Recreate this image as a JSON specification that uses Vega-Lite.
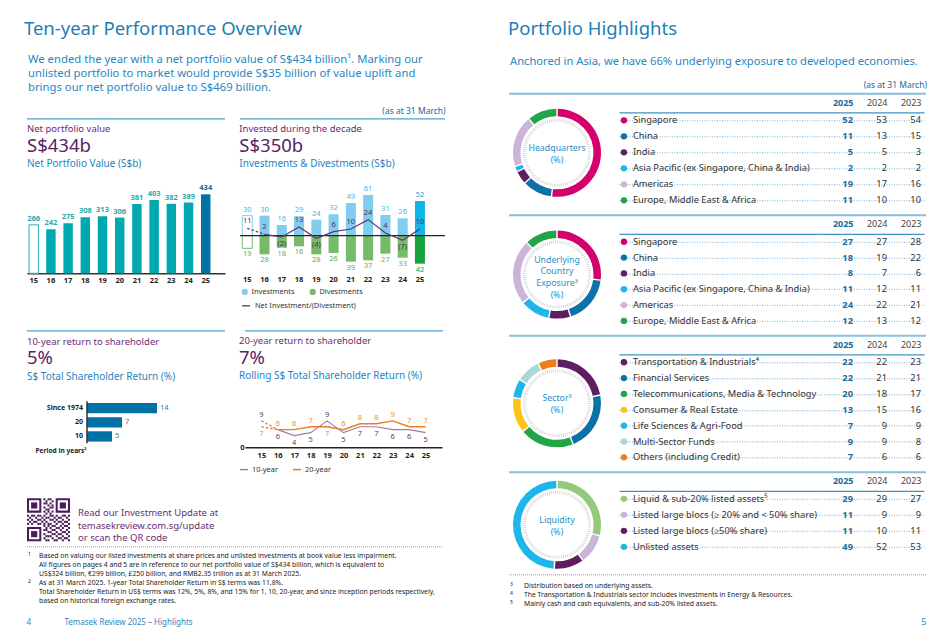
{
"$schema": "https://vega.github.io/schema/vega-lite/v6.json",
"padding": {"left": 23, "top": 20, "right": 4, "bottom": 4},
"config": {
  "font": "Noto Sans",
  "view": {"stroke": null},
  "title": {"anchor": "start", "font": "Noto Sans", "subtitleFont": "Noto Sans", "fontWeight": "normal", "subtitleFontWeight": "normal"},
  "axis": {"labelFont": "Noto Sans", "titleFont": "Noto Sans"},
  "legend": {"labelFont": "Noto Sans", "padding": 0},
  "text": {"font": "Noto Sans"}
},
"datasets": {
  "npv": [{"year":"15","npv":266},{"year":"16","npv":242},{"year":"17","npv":275},{"year":"18","npv":308},{"year":"19","npv":313},{"year":"20","npv":306},{"year":"21","npv":381},{"year":"22","npv":403},{"year":"23","npv":382},{"year":"24","npv":389},{"year":"25","npv":434}],
  "inv": [{"year":"15","inv":30,"div":19,"net":11},{"year":"16","inv":30,"div":28,"net":2},{"year":"17","inv":16,"div":18,"net":-2},{"year":"18","inv":29,"div":16,"net":13},{"year":"19","inv":24,"div":28,"net":-4},{"year":"20","inv":32,"div":26,"net":6},{"year":"21","inv":49,"div":39,"net":10},{"year":"22","inv":61,"div":37,"net":24},{"year":"23","inv":31,"div":27,"net":4},{"year":"24","inv":26,"div":33,"net":-7},{"year":"25","inv":52,"div":42,"net":10}],
  "tsr": [{"period":"Since 1974","r":14},{"period":"20","r":7},{"period":"10","r":5}],
  "roll": [{"year":"15","y10":9,"y20":7},{"year":"16","y10":6,"y20":6},{"year":"17","y10":4,"y20":6},{"year":"18","y10":5,"y20":7},{"year":"19","y10":9,"y20":7},{"year":"20","y10":5,"y20":6},{"year":"21","y10":7,"y20":8},{"year":"22","y10":7,"y20":8},{"year":"23","y10":6,"y20":9},{"year":"24","y10":6,"y20":7},{"year":"25","y10":5,"y20":7}],
  "hq": [{"name":"Singapore","2025":52,"2024":53,"2023":54},{"name":"China","2025":11,"2024":13,"2023":15},{"name":"India","2025":5,"2024":5,"2023":3},{"name":"Asia Pacific (ex Singapore, China & India)","2025":2,"2024":2,"2023":2},{"name":"Americas","2025":19,"2024":17,"2023":16},{"name":"Europe, Middle East & Africa","2025":11,"2024":10,"2023":10}],
  "uce": [{"name":"Singapore","2025":27,"2024":27,"2023":28},{"name":"China","2025":18,"2024":19,"2023":22},{"name":"India","2025":8,"2024":7,"2023":6},{"name":"Asia Pacific (ex Singapore, China & India)","2025":11,"2024":12,"2023":11},{"name":"Americas","2025":24,"2024":22,"2023":21},{"name":"Europe, Middle East & Africa","2025":12,"2024":13,"2023":12}],
  "sec": [{"name":"Transportation & Industrials⁴","2025":22,"2024":22,"2023":23},{"name":"Financial Services","2025":22,"2024":21,"2023":21},{"name":"Telecommunications, Media & Technology","2025":20,"2024":18,"2023":17},{"name":"Consumer & Real Estate","2025":13,"2024":15,"2023":16},{"name":"Life Sciences & Agri-Food","2025":7,"2024":9,"2023":9},{"name":"Multi-Sector Funds","2025":9,"2024":9,"2023":8},{"name":"Others (including Credit)","2025":7,"2024":6,"2023":6}],
  "liq": [{"name":"Liquid & sub-20% listed assets⁵","2025":29,"2024":29,"2023":27},{"name":"Listed large blocs (≥ 20% and < 50% share)","2025":11,"2024":9,"2023":9},{"name":"Listed large blocs (≥50% share)","2025":11,"2024":10,"2023":11},{"name":"Unlisted assets","2025":49,"2024":52,"2023":53}],
  "fnL": [{"n":"1","t":"Based on valuing our listed investments at share prices and unlisted investments at book value less impairment."},{"n":"","t":"All figures on pages 4 and 5 are in reference to our net portfolio value of S$434 billion, which is equivalent to"},{"n":"","t":"US$324 billion, €299 billion, £250 billion, and RMB2.35 trillion as at 31 March 2025."},{"n":"2","t":"As at 31 March 2025. 1-year Total Shareholder Return in S$ terms was 11.8%."},{"n":"","t":"Total Shareholder Return in US$ terms was 12%, 5%, 8%, and 15% for 1, 10, 20-year, and since inception periods respectively,"},{"n":"","t":"based on historical foreign exchange rates."}],
  "fnR": [{"n":"3","t":"Distribution based on underlying assets."},{"n":"4","t":"The Transportation & Industrials sector includes investments in Energy & Resources."},{"n":"5","t":"Mainly cash and cash equivalents, and sub-20% listed assets."}],
  "qrf": [{"c":3,"r":3},{"c":17,"r":3},{"c":3,"r":17}],
  "qr": [{"c":8,"r":0},{"c":10,"r":0},{"c":11,"r":0},{"c":9,"r":1},{"c":12,"r":1},{"c":8,"r":2},{"c":9,"r":2},{"c":11,"r":2},{"c":10,"r":3},{"c":12,"r":3},{"c":8,"r":4},{"c":11,"r":4},{"c":12,"r":4},{"c":9,"r":5},{"c":10,"r":5},{"c":8,"r":6},{"c":10,"r":6},{"c":12,"r":6},{"c":9,"r":7},{"c":11,"r":7},{"c":0,"r":8},{"c":2,"r":8},{"c":3,"r":8},{"c":5,"r":8},{"c":6,"r":8},{"c":8,"r":8},{"c":11,"r":8},{"c":12,"r":8},{"c":14,"r":8},{"c":17,"r":8},{"c":18,"r":8},{"c":20,"r":8},{"c":1,"r":9},{"c":4,"r":9},{"c":7,"r":9},{"c":9,"r":9},{"c":10,"r":9},{"c":13,"r":9},{"c":15,"r":9},{"c":16,"r":9},{"c":19,"r":9},{"c":0,"r":10},{"c":2,"r":10},{"c":5,"r":10},{"c":6,"r":10},{"c":8,"r":10},{"c":11,"r":10},{"c":12,"r":10},{"c":14,"r":10},{"c":17,"r":10},{"c":20,"r":10},{"c":1,"r":11},{"c":3,"r":11},{"c":4,"r":11},{"c":7,"r":11},{"c":9,"r":11},{"c":13,"r":11},{"c":15,"r":11},{"c":16,"r":11},{"c":18,"r":11},{"c":19,"r":11},{"c":0,"r":12},{"c":2,"r":12},{"c":5,"r":12},{"c":6,"r":12},{"c":8,"r":12},{"c":10,"r":12},{"c":11,"r":12},{"c":14,"r":12},{"c":17,"r":12},{"c":20,"r":12},{"c":8,"r":13},{"c":10,"r":13},{"c":12,"r":13},{"c":13,"r":13},{"c":16,"r":13},{"c":18,"r":13},{"c":19,"r":13},{"c":9,"r":14},{"c":11,"r":14},{"c":14,"r":14},{"c":15,"r":14},{"c":17,"r":14},{"c":20,"r":14},{"c":8,"r":15},{"c":9,"r":15},{"c":12,"r":15},{"c":13,"r":15},{"c":16,"r":15},{"c":19,"r":15},{"c":10,"r":16},{"c":11,"r":16},{"c":14,"r":16},{"c":17,"r":16},{"c":18,"r":16},{"c":20,"r":16},{"c":8,"r":17},{"c":12,"r":17},{"c":13,"r":17},{"c":15,"r":17},{"c":16,"r":17},{"c":19,"r":17},{"c":9,"r":18},{"c":10,"r":18},{"c":11,"r":18},{"c":14,"r":18},{"c":17,"r":18},{"c":20,"r":18},{"c":8,"r":19},{"c":12,"r":19},{"c":15,"r":19},{"c":16,"r":19},{"c":18,"r":19},{"c":19,"r":19},{"c":9,"r":20},{"c":10,"r":20},{"c":13,"r":20},{"c":14,"r":20},{"c":17,"r":20},{"c":20,"r":20}]
},
"spacing": 62,
"resolve": {"scale": {"color": "independent", "fill": "independent", "stroke": "independent"}},
"hconcat": [
{
  "title": {"text": "Ten-year Performance Overview", "fontSize": 18.5, "color": "#1d7fb5", "offset": 14.5},
  "spacing": 11.3,
  "resolve": {"scale": {"color": "independent", "fill": "independent", "stroke": "independent"}},
  "vconcat": [
    {
      "width": 2, "height": 42,
      "data": {"values": [{"t": "We ended the year with a net portfolio value of S$434 billion¹. Marking our\nunlisted portfolio to market would provide S$35 billion of value uplift and\nbrings our net portfolio value to S$469 billion."}]},
      "mark": {"type": "text", "align": "left", "baseline": "middle", "lineBreak": "\n", "fontSize": 11.3, "lineHeight": 14, "dy": -14, "color": "#2a86be"},
      "encoding": {"text": {"field": "t", "type": "nominal"}}
    },
    {
      "spacing": 19,
      "resolve": {"scale": {"color": "independent", "fill": "independent", "stroke": "independent"}},
      "vconcat": [
        {
          "title": {"text": "(as at 31 March)", "anchor": "end", "fontSize": 8.5, "color": "#23679a", "offset": 3},
          "spacing": 13,
          "resolve": {"scale": {"color": "independent", "fill": "independent", "stroke": "independent"}},
          "hconcat": [
            {
              "spacing": 4,
              "vconcat": [
                {"width": 198, "height": 1, "data": {"values": [{}]}, "mark": {"type": "rule", "color": "#4d9fd0", "strokeWidth": 1.3}, "encoding": {"y": {"datum": 0, "type": "quantitative", "scale": {"domain": [-1, 1]}, "axis": null}}},
                {
                  "title": {"text": "Net portfolio value", "subtitle": "S$434b", "fontSize": 9.5, "color": "#6b2c70", "subtitleFontSize": 18.5, "subtitleColor": "#5a2366", "subtitlePadding": 3, "offset": 4},
                  "vconcat": [
                    {
                      "title": {"text": "Net Portfolio Value (S$b)", "fontSize": 10, "color": "#1f84bf", "offset": 13},
                      "width": 198, "height": 91,
                      "data": {"name": "npv"},
                      "encoding": {
                        "x": {"field": "year", "type": "ordinal", "scale": {"paddingInner": 0.45, "paddingOuter": 0.48, "align": 0.12}, "axis": {"title": null, "labelAngle": 0, "labelFontSize": 7.5, "labelFontWeight": "bold", "labelColor": "#222222", "ticks": false, "labelPadding": 3, "domainColor": "#333333", "domainWidth": 1.5}},
                        "y": {"field": "npv", "type": "quantitative", "scale": {"domain": [0, 500]}, "axis": null}
                      },
                      "layer": [
                        {"mark": {"type": "bar", "strokeWidth": 1}, "encoding": {"fill": {"condition": [{"test": "datum.year == '15'", "value": "#ffffff"}, {"test": "datum.year == '25'", "value": "#0072a5"}], "value": "#00a9b0"}, "stroke": {"condition": {"test": "datum.year == '15'", "value": "#2bb3b8"}, "value": "transparent"}}},
                        {"mark": {"type": "text", "baseline": "bottom", "dy": -2, "fontSize": 7.5, "fontWeight": "bold"}, "encoding": {"text": {"field": "npv", "type": "quantitative"}, "color": {"condition": {"test": "datum.year == '25'", "value": "#0d6f9f"}, "value": "#2aa8ae"}}}
                      ]
                    }
                  ]
                }
              ]
            },
            {
              "spacing": 4,
              "resolve": {"scale": {"color": "independent", "fill": "independent", "stroke": "independent"}},
              "vconcat": [
                {"width": 205, "height": 1, "data": {"values": [{}]}, "mark": {"type": "rule", "color": "#4d9fd0", "strokeWidth": 1.3}, "encoding": {"y": {"datum": 0, "type": "quantitative", "scale": {"domain": [-1, 1]}, "axis": null}}},
                {
                  "title": {"text": "Invested during the decade", "subtitle": "S$350b", "fontSize": 9.5, "color": "#6b2c70", "subtitleFontSize": 18.5, "subtitleColor": "#5a2366", "subtitlePadding": 3, "offset": 4},
                  "resolve": {"scale": {"color": "independent", "fill": "independent", "stroke": "independent"}},
                  "vconcat": [
                    {
                      "title": {"text": "Investments & Divestments (S$b)", "fontSize": 10, "color": "#1f84bf", "offset": 13},
                      "width": 205, "height": 90.7,
                      "data": {"name": "inv"},
                      "resolve": {"scale": {"y": "independent"}},
                      "layer": [
                        {"mark": {"type": "bar", "strokeWidth": 1},
                         "encoding": {
                           "x": {"field": "year", "type": "ordinal", "scale": {"paddingInner": 0.42, "paddingOuter": 0.645, "align": 0.1}, "axis": {"title": null, "labelAngle": 0, "labelFontSize": 7.5, "labelFontWeight": "bold", "labelColor": "#222222", "ticks": false, "domain": false, "labelPadding": 2}},
                           "y": {"field": "inv", "type": "quantitative", "scale": {"domain": [-56, 80]}, "axis": null},
                           "fill": {"datum": "Investments", "scale": {"domain": ["Investments", "Divestments"], "range": ["#80cdf0", "#76bb69"]}, "condition": [{"test": "datum.year == '15'", "value": "#ffffff"}, {"test": "datum.year == '25'", "value": "#12b4ea"}], "legend": {"orient": "none", "legendX": 1, "legendY": 105.5, "direction": "horizontal", "title": null, "symbolType": "circle", "symbolSize": 40, "symbolStrokeWidth": 0, "labelFontSize": 7.4, "labelColor": "#333333", "labelOffset": 3, "columnPadding": 14, "encode": {"symbols": {"update": {"fill": {"signal": "datum.value === 'Investments' ? '#19b2e8' : '#1ea33f'"}}}}}},
                           "stroke": {"condition": {"test": "datum.year == '15'", "value": "#80cdf0"}, "value": "transparent"}}},
                        {"mark": {"type": "bar", "strokeWidth": 1},
                         "encoding": {
                           "x": {"field": "year", "type": "ordinal"},
                           "y": {"field": "div", "type": "quantitative", "scale": {"domain": [56, -80]}, "axis": null},
                           "fill": {"datum": "Divestments", "condition": [{"test": "datum.year == '15'", "value": "#ffffff"}, {"test": "datum.year == '25'", "value": "#17a33b"}]},
                           "stroke": {"condition": {"test": "datum.year == '15'", "value": "#76bb69"}, "value": "transparent"}}},
                        {"data": {"values": [{}]}, "mark": {"type": "rule", "color": "#222222", "strokeWidth": 1.3}, "encoding": {"y": {"datum": 0, "type": "quantitative", "scale": {"domain": [-56, 80]}, "axis": null}}},
                        {"transform": [{"filter": "datum.year == '15' || datum.year == '16'"}], "mark": {"type": "line", "color": "#6b2d6e", "strokeWidth": 1.2, "strokeDash": [2.5, 2]}, "encoding": {"x": {"field": "year", "type": "ordinal"}, "y": {"field": "net", "type": "quantitative", "scale": {"domain": [-56, 80]}, "axis": null}}},
                        {"transform": [{"filter": "datum.year != '15'"}], "mark": {"type": "line", "strokeWidth": 1.2}, "encoding": {"x": {"field": "year", "type": "ordinal"}, "y": {"field": "net", "type": "quantitative", "scale": {"domain": [-56, 80]}, "axis": null}, "stroke": {"datum": "Net Investment/(Divestment)", "scale": {"range": ["#6b2d6e"]}, "legend": {"orient": "none", "legendX": 1, "legendY": 118.5, "title": null, "symbolType": "stroke", "symbolSize": 64, "symbolStrokeWidth": 1.3, "labelFontSize": 7.4, "labelColor": "#333333", "labelOffset": 4}}}},
                        {"mark": {"type": "text", "dy": -6, "fontSize": 7.5}, "encoding": {"x": {"field": "year", "type": "ordinal"}, "y": {"field": "inv", "type": "quantitative", "scale": {"domain": [-56, 80]}, "axis": null}, "text": {"field": "inv", "type": "quantitative"}, "color": {"condition": {"test": "datum.year == '25'", "value": "#0ea5dc"}, "value": "#45b6e6"}}},
                        {"mark": {"type": "text", "dy": 6, "fontSize": 7.5}, "encoding": {"x": {"field": "year", "type": "ordinal"}, "y": {"field": "div", "type": "quantitative", "scale": {"domain": [56, -80]}, "axis": null}, "text": {"field": "div", "type": "quantitative"}, "color": {"condition": {"test": "datum.year == '25'", "value": "#17a33b"}, "value": "#5bae50"}}},
                        {"transform": [{"filter": "datum.net >= 0"}], "mark": {"type": "text", "dy": -7, "fontSize": 7.5, "color": "#5a2a5f"}, "encoding": {"x": {"field": "year", "type": "ordinal"}, "y": {"field": "net", "type": "quantitative", "scale": {"domain": [-56, 80]}, "axis": null}, "text": {"field": "net", "type": "quantitative", "format": "("}}},
                        {"transform": [{"filter": "datum.net < 0"}], "mark": {"type": "text", "dy": 7, "fontSize": 7.5, "color": "#5a2a5f"}, "encoding": {"x": {"field": "year", "type": "ordinal"}, "y": {"field": "net", "type": "quantitative", "scale": {"domain": [-56, 80]}, "axis": null}, "text": {"field": "net", "type": "quantitative", "format": "("}}}
                      ]
                    }
                  ]
                }
              ]
            }
          ]
        },
        {
          "spacing": 21,
          "resolve": {"scale": {"color": "independent", "fill": "independent", "stroke": "independent"}},
          "vconcat": [
            {
              "spacing": 13,
              "resolve": {"scale": {"color": "independent", "fill": "independent", "stroke": "independent"}},
              "hconcat": [
                {
                  "spacing": 4,
                  "vconcat": [
                    {"width": 198, "height": 1, "data": {"values": [{}]}, "mark": {"type": "rule", "color": "#4d9fd0", "strokeWidth": 1.3}, "encoding": {"y": {"datum": 0, "type": "quantitative", "scale": {"domain": [-1, 1]}, "axis": null}}},
                    {
                      "title": {"text": "10-year return to shareholder", "subtitle": "5%", "fontSize": 9.5, "color": "#6b2c70", "subtitleFontSize": 18.5, "subtitleColor": "#5a2366", "subtitlePadding": 3, "offset": 4},
                      "vconcat": [
                        {
                          "title": {"text": "S$ Total Shareholder Return (%)", "fontSize": 10, "color": "#1f84bf", "offset": 19},
                          "width": 140, "height": 42,
                          "data": {"name": "tsr"},
                          "layer": [
                            {"mark": {"type": "bar", "color": "#0072a5"},
                             "encoding": {
                               "y": {"field": "period", "type": "nominal", "sort": null, "scale": {"paddingInner": 0.27, "paddingOuter": 0.12}, "axis": null},
                               "x": {"field": "r", "type": "quantitative", "scale": {"domain": [-11.27, 14.2]}, "axis": {"title": "Period in years²", "labels": false, "ticks": false, "domain": false, "grid": false, "titleX": 8, "titleY": 7, "titleAlign": "left", "titleBaseline": "middle", "titleFontSize": 6.6, "titleFontWeight": "bold", "titleColor": "#222222"}}}},
                            {"mark": {"type": "text", "align": "left", "dx": 3, "fontSize": 7.5, "color": "#2b7fb5"}, "encoding": {"y": {"field": "period", "type": "nominal", "sort": null}, "x": {"field": "r", "type": "quantitative"}, "text": {"field": "r", "type": "quantitative"}}},
                            {"mark": {"type": "text", "align": "right", "dx": -4, "fontSize": 7, "fontWeight": "bold", "color": "#222222"}, "encoding": {"y": {"field": "period", "type": "nominal", "sort": null}, "x": {"datum": 0, "type": "quantitative"}, "text": {"field": "period", "type": "nominal"}}},
                            {"data": {"values": [{}]}, "mark": {"type": "rule", "color": "#333333", "strokeWidth": 1.5}, "encoding": {"x": {"datum": 0, "type": "quantitative"}}}
                          ]
                        }
                      ]
                    }
                  ]
                },
                {
                  "spacing": 4,
                  "resolve": {"scale": {"color": "independent", "fill": "independent", "stroke": "independent"}},
                  "vconcat": [
                    {"width": 198, "height": 1, "data": {"values": [{}]}, "mark": {"type": "rule", "color": "#4d9fd0", "strokeWidth": 1.3}, "encoding": {"y": {"datum": 0, "type": "quantitative", "scale": {"domain": [-1, 1]}, "axis": null}}},
                    {
                      "title": {"text": "20-year return to shareholder", "subtitle": "7%", "fontSize": 9.5, "color": "#6b2c70", "subtitleFontSize": 18.5, "subtitleColor": "#5a2366", "subtitlePadding": 3, "offset": 4},
                      "resolve": {"scale": {"color": "independent", "fill": "independent", "stroke": "independent"}},
                      "vconcat": [
                        {
                          "title": {"text": "Rolling S$ Total Shareholder Return (%)", "fontSize": 10, "color": "#1f84bf", "offset": 19},
                          "width": 197, "height": 47,
                          "data": {"name": "roll"},
                          "layer": [
                            {"transform": [{"filter": "datum.year == '15' || datum.year == '16'"}], "mark": {"type": "line", "color": "#a27ba9", "strokeWidth": 1.2, "strokeDash": [2.5, 2]},
                             "encoding": {"x": {"field": "year", "type": "ordinal", "scale": {"type": "point", "padding": 1.1}, "axis": {"title": null, "labelAngle": 0, "labelFontSize": 7.5, "labelFontWeight": "bold", "labelColor": "#222222", "ticks": false, "labelPadding": 4, "domainColor": "#222222", "domainWidth": 1.5}}, "y": {"field": "y10", "type": "quantitative", "scale": {"domain": [0, 14.5]}, "axis": {"title": null, "values": [0], "labelFontSize": 7.5, "labelFontWeight": "bold", "labelColor": "#222222", "ticks": false, "domain": false, "grid": false, "labelPadding": 1}}}},
                            {"transform": [{"filter": "datum.year != '15'"}], "mark": {"type": "line", "strokeWidth": 1.2},
                             "encoding": {"x": {"field": "year", "type": "ordinal"}, "y": {"field": "y10", "type": "quantitative"}, "stroke": {"datum": "10-year", "scale": {"domain": ["10-year", "20-year"], "range": ["#a27ba9", "#f07c1f"]}, "legend": {"orient": "none", "legendX": -6, "legendY": 64, "direction": "horizontal", "title": null, "symbolType": "stroke", "symbolSize": 64, "symbolStrokeWidth": 1.5, "labelFontSize": 7.4, "labelColor": "#333333", "labelOffset": 3, "columnPadding": 12}}}},
                            {"transform": [{"filter": "datum.year == '15' || datum.year == '16'"}], "mark": {"type": "line", "color": "#f07c1f", "strokeWidth": 1.4, "strokeDash": [2.5, 2]},
                             "encoding": {"x": {"field": "year", "type": "ordinal"}, "y": {"field": "y20", "type": "quantitative"}}},
                            {"transform": [{"filter": "datum.year != '15'"}], "mark": {"type": "line", "strokeWidth": 1.4},
                             "encoding": {"x": {"field": "year", "type": "ordinal"}, "y": {"field": "y20", "type": "quantitative"}, "stroke": {"datum": "20-year"}}},
                            {"transform": [{"filter": "datum.y10 > datum.y20"}], "mark": {"type": "text", "dy": -6, "fontSize": 7.5, "color": "#6b3773"}, "encoding": {"x": {"field": "year", "type": "ordinal"}, "y": {"field": "y10", "type": "quantitative"}, "text": {"field": "y10", "type": "quantitative"}}},
                            {"transform": [{"filter": "datum.y10 <= datum.y20"}], "mark": {"type": "text", "dy": 7, "fontSize": 7.5, "color": "#6b3773"}, "encoding": {"x": {"field": "year", "type": "ordinal"}, "y": {"field": "y10", "type": "quantitative"}, "text": {"field": "y10", "type": "quantitative"}}},
                            {"transform": [{"filter": "datum.y20 >= datum.y10"}], "mark": {"type": "text", "dy": -6, "fontSize": 7.5, "color": "#f08a2e"}, "encoding": {"x": {"field": "year", "type": "ordinal"}, "y": {"field": "y20", "type": "quantitative"}, "text": {"field": "y20", "type": "quantitative"}}},
                            {"transform": [{"filter": "datum.y20 < datum.y10"}], "mark": {"type": "text", "dy": 7, "fontSize": 7.5, "color": "#f08a2e"}, "encoding": {"x": {"field": "year", "type": "ordinal"}, "y": {"field": "y20", "type": "quantitative"}, "text": {"field": "y20", "type": "quantitative"}}}
                          ]
                        }
                      ]
                    }
                  ]
                }
              ]
            },
            {
              "spacing": 1,
              "vconcat": [
                {
                  "spacing": 3,
                  "hconcat": [
                    {
                      "width": 43, "height": 43,
                      "encoding": {
                        "x": {"field": "c", "type": "ordinal", "scale": {"domain": [0,1,2,3,4,5,6,7,8,9,10,11,12,13,14,15,16,17,18,19,20], "paddingInner": 0, "paddingOuter": 0}, "axis": null},
                        "y": {"field": "r", "type": "ordinal", "scale": {"domain": [0,1,2,3,4,5,6,7,8,9,10,11,12,13,14,15,16,17,18,19,20], "paddingInner": 0, "paddingOuter": 0}, "axis": null}
                      },
                      "layer": [
                        {"data": {"name": "qr"}, "mark": {"type": "rect", "color": "#4a1d57"}},
                        {"data": {"name": "qrf"}, "mark": {"type": "point", "shape": "square", "filled": false, "size": 151, "strokeWidth": 2.05, "color": "#4a1d57", "opacity": 1}},
                        {"data": {"name": "qrf"}, "mark": {"type": "point", "shape": "square", "filled": true, "size": 38, "color": "#4a1d57", "opacity": 1}}
                      ]
                    },
                    {
                      "width": 2, "height": 43,
                      "data": {"values": [{"t": "Read our Investment Update at\ntemasekreview.com.sg/update\nor scan the QR code"}]},
                      "mark": {"type": "text", "align": "left", "baseline": "middle", "lineBreak": "\n", "fontSize": 9.5, "lineHeight": 12.5, "color": "#6b2c70", "dy": -6.5},
                      "encoding": {"text": {"field": "t", "type": "nominal"}}
                    }
                  ]
                },
                {
                  "title": {"text": "4\u2003\u2003\u2003\u2003\u2009Temasek Review 2025 – Highlights", "orient": "bottom", "anchor": "start", "fontSize": 8, "color": "#2b87bf", "offset": 14},
                  "spacing": 4,
                  "vconcat": [
                    {"width": 415, "height": 1, "data": {"values": [{}]}, "mark": {"type": "rule", "color": "#9a9a9a", "strokeWidth": 1, "strokeDash": [1, 1]}, "encoding": {"y": {"datum": 0, "type": "quantitative", "scale": {"domain": [-1, 1]}, "axis": null}}},
                    {
                      "width": 2, "height": 54,
                      "data": {"name": "fnL"},
                      "encoding": {"y": {"field": "t", "type": "nominal", "sort": null, "scale": {"paddingInner": 0, "paddingOuter": 0}, "axis": null}},
                      "layer": [
                        {"mark": {"type": "text", "align": "left", "fontSize": 5, "dy": -2, "color": "#222222"}, "encoding": {"text": {"field": "n", "type": "nominal"}}},
                        {"mark": {"type": "text", "align": "left", "dx": 11, "fontSize": 6.8, "color": "#222222"}, "encoding": {"text": {"field": "t", "type": "nominal"}}}
                      ]
                    }
                  ]
                }
              ]
            }
          ]
        }
      ]
    }
  ]
},
{
  "title": {"text": "Portfolio Highlights", "fontSize": 18.5, "color": "#1d7fb5", "offset": 14.5},
  "spacing": 10.3,
  "resolve": {"scale": {"color": "independent", "fill": "independent", "stroke": "independent"}},
  "vconcat": [
    {
      "width": 2, "height": 18,
      "data": {"values": [{"t": "Anchored in Asia, we have 66% underlying exposure to developed economies."}]},
      "mark": {"type": "text", "align": "left", "baseline": "middle", "fontSize": 11.2, "color": "#2a86be"},
      "encoding": {"text": {"field": "t", "type": "nominal"}}
    },
    {
      "spacing": 5.5,
      "resolve": {"scale": {"color": "independent", "fill": "independent", "stroke": "independent"}},
      "vconcat": [
        {
          "title": {"text": "(as at 31 March)", "anchor": "end", "fontSize": 8.5, "color": "#23679a", "offset": 3},
          "spacing": 3,
          "resolve": {"scale": {"color": "independent", "fill": "independent", "stroke": "independent"}},
          "vconcat": [
            {"width": 417, "height": 1, "data": {"values": [{}]}, "mark": {"type": "rule", "color": "#85bfe2", "strokeWidth": 2}, "encoding": {"y": {"datum": 0, "type": "quantitative", "scale": {"domain": [-1, 1]}, "axis": null}}},
            {
              "spacing": 14,
              "hconcat": [
                {
                  "width": 96, "height": 81,
                  "layer": [
                    {"data": {"name": "hq"}, "transform": [{"window": [{"op": "row_number", "as": "i"}]}], "mark": {"type": "arc", "outerRadius": 44, "innerRadius": 36.5, "padAngle": 0.025}, "encoding": {"theta": {"field": "2025", "type": "quantitative", "stack": true}, "order": {"field": "i", "type": "quantitative"}, "color": {"field": "name", "type": "nominal", "scale": {"domain": ["Singapore","China","India","Asia Pacific (ex Singapore, China & India)","Americas","Europe, Middle East & Africa"], "range": ["#d4006c","#0a72a6","#5d1f60","#1db6ea","#cab5d8","#22a449"]}, "legend": null}}},
                    {"data": {"values": [{"t": "Headquarters\n(%)"}]}, "mark": {"type": "point", "shape": "circle", "size": 4225, "filled": false, "stroke": "#cfcfcf", "strokeWidth": 3, "strokeDash": [0.8, 1.3], "opacity": 1}, "encoding": {}},
                    {"data": {"values": [{"t": "Headquarters\n(%)"}]}, "mark": {"type": "text", "baseline": "middle", "lineBreak": "\n", "fontSize": 8.8, "lineHeight": 12, "dy": -4.5, "color": "#2a8fc8"}, "encoding": {"text": {"field": "t", "type": "nominal"}}}
                  ]
                },
                {
                  "spacing": 0, "bounds": "flush",
                  "hconcat": [
                    {
                      "width": 197, "height": 96,
                      "data": {"name": "hq"},
                      "encoding": {
                        "y": {"field": "name", "type": "nominal", "sort": null, "scale": {"paddingInner": 0, "paddingOuter": 0}, "axis": {"title": null, "labels": false, "ticks": false, "domain": false, "grid": true, "gridDash": [1, 1.5], "gridColor": "#4fa0d0", "gridWidth": 0.8, "bandPosition": 1}},
                        "x": {"datum": 1, "type": "quantitative", "scale": {"domain": [0, 40]}, "axis": {"orient": "top", "title": null, "labels": false, "ticks": false, "grid": false, "domain": true, "domainColor": "#3a94c8", "domainWidth": 1.2}}
                      },
                      "layer": [
                        {"mark": {"type": "point", "filled": true, "size": 40, "opacity": 1}, "encoding": {"color": {"field": "name", "type": "nominal", "scale": {"domain": ["Singapore","China","India","Asia Pacific (ex Singapore, China & India)","Americas","Europe, Middle East & Africa"], "range": ["#d4006c","#0a72a6","#5d1f60","#1db6ea","#cab5d8","#22a449"]}, "legend": null}}},
                        {"mark": {"type": "text", "align": "left", "dx": 9, "fontSize": 9.3, "color": "#333333"}, "encoding": {"text": {"field": "name", "type": "nominal"}}}
                      ]
                    },
                    {
                      "width": 108, "height": 96,
                      "data": {"name": "hq"},
                      "transform": [{"fold": ["2025", "2024", "2023"], "as": ["year", "v"]}],
                      "encoding": {
                        "y": {"field": "name", "type": "nominal", "sort": null, "scale": {"paddingInner": 0, "paddingOuter": 0}, "axis": {"title": null, "labels": false, "ticks": false, "domain": false, "grid": true, "gridDash": [1, 1.5], "gridColor": "#4fa0d0", "gridWidth": 0.8, "bandPosition": 1}},
                        "x": {"field": "year", "type": "nominal", "sort": ["2025", "2024", "2023"], "scale": {"type": "point", "padding": 0.588, "align": 0.925}, "axis": {"orient": "top", "title": null, "ticks": false, "domain": true, "domainColor": "#3a94c8", "domainWidth": 1.2, "labelAlign": "right", "labelAngle": 0, "labelFontSize": 9, "labelPadding": 5, "labelColor": {"condition": {"test": "datum.value == '2025'", "value": "#1b6c9d"}, "value": "#444444"}, "labelFontWeight": {"condition": {"test": "datum.value == '2025'", "value": "bold"}, "value": "normal"}}},
                        "text": {"field": "v", "type": "quantitative"}
                      },
                      "layer": [
                        {"transform": [{"filter": "datum.year == '2025'"}], "mark": {"type": "text", "align": "right", "fontSize": 9.3, "fontWeight": "bold", "color": "#1b6c9d"}},
                        {"transform": [{"filter": "datum.year != '2025'"}], "mark": {"type": "text", "align": "right", "fontSize": 9.3, "color": "#333333"}}
                      ]
                    }
                  ]
                }
              ]
            }
          ]
        },
        {
          "spacing": 3,
          "resolve": {"scale": {"color": "independent", "fill": "independent", "stroke": "independent"}},
          "vconcat": [
            {"width": 417, "height": 1, "data": {"values": [{}]}, "mark": {"type": "rule", "color": "#85bfe2", "strokeWidth": 2}, "encoding": {"y": {"datum": 0, "type": "quantitative", "scale": {"domain": [-1, 1]}, "axis": null}}},
            {
              "spacing": 14,
              "hconcat": [
                {
                  "width": 96, "height": 81.6,
                  "layer": [
                    {"data": {"name": "uce"}, "transform": [{"window": [{"op": "row_number", "as": "i"}]}], "mark": {"type": "arc", "outerRadius": 44, "innerRadius": 36.5, "padAngle": 0.025}, "encoding": {"theta": {"field": "2025", "type": "quantitative", "stack": true}, "order": {"field": "i", "type": "quantitative"}, "color": {"field": "name", "type": "nominal", "scale": {"domain": ["Singapore","China","India","Asia Pacific (ex Singapore, China & India)","Americas","Europe, Middle East & Africa"], "range": ["#d4006c","#0a72a6","#5d1f60","#1db6ea","#cab5d8","#22a449"]}, "legend": null}}},
                    {"data": {"values": [{"t": "Underlying\nCountry\nExposure³\n(%)"}]}, "mark": {"type": "point", "shape": "circle", "size": 4225, "filled": false, "stroke": "#cfcfcf", "strokeWidth": 3, "strokeDash": [0.8, 1.3], "opacity": 1}, "encoding": {}},
                    {"data": {"values": [{"t": "Underlying\nCountry\nExposure³\n(%)"}]}, "mark": {"type": "text", "baseline": "middle", "lineBreak": "\n", "fontSize": 8.8, "lineHeight": 11.7, "dy": -15, "color": "#2a8fc8"}, "encoding": {"text": {"field": "t", "type": "nominal"}}}
                  ]
                },
                {
                  "spacing": 0, "bounds": "flush",
                  "hconcat": [
                    {
                      "width": 197, "height": 95,
                      "data": {"name": "uce"},
                      "encoding": {
                        "y": {"field": "name", "type": "nominal", "sort": null, "scale": {"paddingInner": 0, "paddingOuter": 0}, "axis": {"title": null, "labels": false, "ticks": false, "domain": false, "grid": true, "gridDash": [1, 1.5], "gridColor": "#4fa0d0", "gridWidth": 0.8, "bandPosition": 1}},
                        "x": {"datum": 1, "type": "quantitative", "scale": {"domain": [0, 40]}, "axis": {"orient": "top", "title": null, "labels": false, "ticks": false, "grid": false, "domain": true, "domainColor": "#3a94c8", "domainWidth": 1.2}}
                      },
                      "layer": [
                        {"mark": {"type": "point", "filled": true, "size": 40, "opacity": 1}, "encoding": {"color": {"field": "name", "type": "nominal", "scale": {"domain": ["Singapore","China","India","Asia Pacific (ex Singapore, China & India)","Americas","Europe, Middle East & Africa"], "range": ["#d4006c","#0a72a6","#5d1f60","#1db6ea","#cab5d8","#22a449"]}, "legend": null}}},
                        {"mark": {"type": "text", "align": "left", "dx": 9, "fontSize": 9.3, "color": "#333333"}, "encoding": {"text": {"field": "name", "type": "nominal"}}}
                      ]
                    },
                    {
                      "width": 108, "height": 95,
                      "data": {"name": "uce"},
                      "transform": [{"fold": ["2025", "2024", "2023"], "as": ["year", "v"]}],
                      "encoding": {
                        "y": {"field": "name", "type": "nominal", "sort": null, "scale": {"paddingInner": 0, "paddingOuter": 0}, "axis": {"title": null, "labels": false, "ticks": false, "domain": false, "grid": true, "gridDash": [1, 1.5], "gridColor": "#4fa0d0", "gridWidth": 0.8, "bandPosition": 1}},
                        "x": {"field": "year", "type": "nominal", "sort": ["2025", "2024", "2023"], "scale": {"type": "point", "padding": 0.588, "align": 0.925}, "axis": {"orient": "top", "title": null, "ticks": false, "domain": true, "domainColor": "#3a94c8", "domainWidth": 1.2, "labelAlign": "right", "labelAngle": 0, "labelFontSize": 9, "labelPadding": 5, "labelColor": {"condition": {"test": "datum.value == '2025'", "value": "#1b6c9d"}, "value": "#444444"}, "labelFontWeight": {"condition": {"test": "datum.value == '2025'", "value": "bold"}, "value": "normal"}}},
                        "text": {"field": "v", "type": "quantitative"}
                      },
                      "layer": [
                        {"transform": [{"filter": "datum.year == '2025'"}], "mark": {"type": "text", "align": "right", "fontSize": 9.3, "fontWeight": "bold", "color": "#1b6c9d"}},
                        {"transform": [{"filter": "datum.year != '2025'"}], "mark": {"type": "text", "align": "right", "fontSize": 9.3, "color": "#333333"}}
                      ]
                    }
                  ]
                }
              ]
            }
          ]
        },
        {
          "spacing": 3,
          "resolve": {"scale": {"color": "independent", "fill": "independent", "stroke": "independent"}},
          "vconcat": [
            {"width": 417, "height": 1, "data": {"values": [{}]}, "mark": {"type": "rule", "color": "#85bfe2", "strokeWidth": 2}, "encoding": {"y": {"datum": 0, "type": "quantitative", "scale": {"domain": [-1, 1]}, "axis": null}}},
            {
              "spacing": 14,
              "hconcat": [
                {
                  "width": 96, "height": 98,
                  "layer": [
                    {"data": {"name": "sec"}, "transform": [{"window": [{"op": "row_number", "as": "i"}]}], "mark": {"type": "arc", "outerRadius": 44, "innerRadius": 36.5, "padAngle": 0.025}, "encoding": {"theta": {"field": "2025", "type": "quantitative", "stack": true}, "order": {"field": "i", "type": "quantitative"}, "color": {"field": "name", "type": "nominal", "scale": {"domain": ["Transportation & Industrials⁴","Financial Services","Telecommunications, Media & Technology","Consumer & Real Estate","Life Sciences & Agri-Food","Multi-Sector Funds","Others (including Credit)"], "range": ["#5d1f60","#0a72a6","#22a449","#fcc316","#1db6ea","#a8d9d7","#ef7b1a"]}, "legend": null}}},
                    {"data": {"values": [{"t": "Sector³\n(%)"}]}, "mark": {"type": "point", "shape": "circle", "size": 4225, "filled": false, "stroke": "#cfcfcf", "strokeWidth": 3, "strokeDash": [0.8, 1.3], "opacity": 1}, "encoding": {}},
                    {"data": {"values": [{"t": "Sector³\n(%)"}]}, "mark": {"type": "text", "baseline": "middle", "lineBreak": "\n", "fontSize": 8.8, "lineHeight": 12, "dy": -5, "color": "#2a8fc8"}, "encoding": {"text": {"field": "t", "type": "nominal"}}}
                  ]
                },
                {
                  "spacing": 0, "bounds": "flush",
                  "hconcat": [
                    {
                      "width": 197, "height": 111,
                      "data": {"name": "sec"},
                      "encoding": {
                        "y": {"field": "name", "type": "nominal", "sort": null, "scale": {"paddingInner": 0, "paddingOuter": 0}, "axis": {"title": null, "labels": false, "ticks": false, "domain": false, "grid": true, "gridDash": [1, 1.5], "gridColor": "#4fa0d0", "gridWidth": 0.8, "bandPosition": 1}},
                        "x": {"datum": 1, "type": "quantitative", "scale": {"domain": [0, 40]}, "axis": {"orient": "top", "title": null, "labels": false, "ticks": false, "grid": false, "domain": true, "domainColor": "#3a94c8", "domainWidth": 1.2}}
                      },
                      "layer": [
                        {"mark": {"type": "point", "filled": true, "size": 40, "opacity": 1}, "encoding": {"color": {"field": "name", "type": "nominal", "scale": {"domain": ["Transportation & Industrials⁴","Financial Services","Telecommunications, Media & Technology","Consumer & Real Estate","Life Sciences & Agri-Food","Multi-Sector Funds","Others (including Credit)"], "range": ["#5d1f60","#0a72a6","#22a449","#fcc316","#1db6ea","#a8d9d7","#ef7b1a"]}, "legend": null}}},
                        {"mark": {"type": "text", "align": "left", "dx": 9, "fontSize": 9.3, "color": "#333333"}, "encoding": {"text": {"field": "name", "type": "nominal"}}}
                      ]
                    },
                    {
                      "width": 108, "height": 111,
                      "data": {"name": "sec"},
                      "transform": [{"fold": ["2025", "2024", "2023"], "as": ["year", "v"]}],
                      "encoding": {
                        "y": {"field": "name", "type": "nominal", "sort": null, "scale": {"paddingInner": 0, "paddingOuter": 0}, "axis": {"title": null, "labels": false, "ticks": false, "domain": false, "grid": true, "gridDash": [1, 1.5], "gridColor": "#4fa0d0", "gridWidth": 0.8, "bandPosition": 1}},
                        "x": {"field": "year", "type": "nominal", "sort": ["2025", "2024", "2023"], "scale": {"type": "point", "padding": 0.588, "align": 0.925}, "axis": {"orient": "top", "title": null, "ticks": false, "domain": true, "domainColor": "#3a94c8", "domainWidth": 1.2, "labelAlign": "right", "labelAngle": 0, "labelFontSize": 9, "labelPadding": 5, "labelColor": {"condition": {"test": "datum.value == '2025'", "value": "#1b6c9d"}, "value": "#444444"}, "labelFontWeight": {"condition": {"test": "datum.value == '2025'", "value": "bold"}, "value": "normal"}}},
                        "text": {"field": "v", "type": "quantitative"}
                      },
                      "layer": [
                        {"transform": [{"filter": "datum.year == '2025'"}], "mark": {"type": "text", "align": "right", "fontSize": 9.3, "fontWeight": "bold", "color": "#1b6c9d"}},
                        {"transform": [{"filter": "datum.year != '2025'"}], "mark": {"type": "text", "align": "right", "fontSize": 9.3, "color": "#333333"}}
                      ]
                    }
                  ]
                }
              ]
            }
          ]
        },
        {
          "spacing": 3,
          "resolve": {"scale": {"color": "independent", "fill": "independent", "stroke": "independent"}},
          "vconcat": [
            {"width": 417, "height": 1, "data": {"values": [{}]}, "mark": {"type": "rule", "color": "#85bfe2", "strokeWidth": 2}, "encoding": {"y": {"datum": 0, "type": "quantitative", "scale": {"domain": [-1, 1]}, "axis": null}}},
            {
              "spacing": 14,
              "hconcat": [
                {
                  "width": 96, "height": 68,
                  "layer": [
                    {"data": {"name": "liq"}, "transform": [{"window": [{"op": "row_number", "as": "i"}]}], "mark": {"type": "arc", "outerRadius": 44, "innerRadius": 36.5, "padAngle": 0.025}, "encoding": {"theta": {"field": "2025", "type": "quantitative", "stack": true}, "order": {"field": "i", "type": "quantitative"}, "color": {"field": "name", "type": "nominal", "scale": {"domain": ["Liquid & sub-20% listed assets⁵","Listed large blocs (≥ 20% and < 50% share)","Listed large blocs (≥50% share)","Unlisted assets"], "range": ["#94c97e","#cab5d8","#5d1f60","#1db6ea"]}, "legend": null}}},
                    {"data": {"values": [{"t": "Liquidity\n(%)"}]}, "mark": {"type": "point", "shape": "circle", "size": 4225, "filled": false, "stroke": "#cfcfcf", "strokeWidth": 3, "strokeDash": [0.8, 1.3], "opacity": 1}, "encoding": {}},
                    {"data": {"values": [{"t": "Liquidity\n(%)"}]}, "mark": {"type": "text", "baseline": "middle", "lineBreak": "\n", "fontSize": 8.8, "lineHeight": 12, "dy": -5.3, "color": "#2a8fc8"}, "encoding": {"text": {"field": "t", "type": "nominal"}}}
                  ]
                },
                {
                  "spacing": 0, "bounds": "flush",
                  "hconcat": [
                    {
                      "width": 197, "height": 64,
                      "data": {"name": "liq"},
                      "encoding": {
                        "y": {"field": "name", "type": "nominal", "sort": null, "scale": {"paddingInner": 0, "paddingOuter": 0}, "axis": {"title": null, "labels": false, "ticks": false, "domain": false, "grid": true, "gridDash": [1, 1.5], "gridColor": "#4fa0d0", "gridWidth": 0.8, "bandPosition": 1}},
                        "x": {"datum": 1, "type": "quantitative", "scale": {"domain": [0, 40]}, "axis": {"orient": "top", "title": null, "labels": false, "ticks": false, "grid": false, "domain": true, "domainColor": "#3a94c8", "domainWidth": 1.2}}
                      },
                      "layer": [
                        {"mark": {"type": "point", "filled": true, "size": 40, "opacity": 1}, "encoding": {"color": {"field": "name", "type": "nominal", "scale": {"domain": ["Liquid & sub-20% listed assets⁵","Listed large blocs (≥ 20% and < 50% share)","Listed large blocs (≥50% share)","Unlisted assets"], "range": ["#94c97e","#cab5d8","#5d1f60","#1db6ea"]}, "legend": null}}},
                        {"mark": {"type": "text", "align": "left", "dx": 9, "fontSize": 9.3, "color": "#333333"}, "encoding": {"text": {"field": "name", "type": "nominal"}}}
                      ]
                    },
                    {
                      "width": 108, "height": 64,
                      "data": {"name": "liq"},
                      "transform": [{"fold": ["2025", "2024", "2023"], "as": ["year", "v"]}],
                      "encoding": {
                        "y": {"field": "name", "type": "nominal", "sort": null, "scale": {"paddingInner": 0, "paddingOuter": 0}, "axis": {"title": null, "labels": false, "ticks": false, "domain": false, "grid": true, "gridDash": [1, 1.5], "gridColor": "#4fa0d0", "gridWidth": 0.8, "bandPosition": 1}},
                        "x": {"field": "year", "type": "nominal", "sort": ["2025", "2024", "2023"], "scale": {"type": "point", "padding": 0.588, "align": 0.925}, "axis": {"orient": "top", "title": null, "ticks": false, "domain": true, "domainColor": "#3a94c8", "domainWidth": 1.2, "labelAlign": "right", "labelAngle": 0, "labelFontSize": 9, "labelPadding": 5, "labelColor": {"condition": {"test": "datum.value == '2025'", "value": "#1b6c9d"}, "value": "#444444"}, "labelFontWeight": {"condition": {"test": "datum.value == '2025'", "value": "bold"}, "value": "normal"}}},
                        "text": {"field": "v", "type": "quantitative"}
                      },
                      "layer": [
                        {"transform": [{"filter": "datum.year == '2025'"}], "mark": {"type": "text", "align": "right", "fontSize": 9.3, "fontWeight": "bold", "color": "#1b6c9d"}},
                        {"transform": [{"filter": "datum.year != '2025'"}], "mark": {"type": "text", "align": "right", "fontSize": 9.3, "color": "#333333"}}
                      ]
                    }
                  ]
                }
              ]
            }
          ]
        },
        {
          "title": {"text": "5", "orient": "bottom", "anchor": "end", "fontSize": 9, "color": "#2b87bf", "offset": 10},
          "spacing": 6,
          "vconcat": [
            {"width": 417, "height": 1, "data": {"values": [{}]}, "mark": {"type": "rule", "color": "#9a9a9a", "strokeWidth": 1, "strokeDash": [1, 1]}, "encoding": {"y": {"datum": 0, "type": "quantitative", "scale": {"domain": [-1, 1]}, "axis": null}}},
            {
              "width": 2, "height": 27,
              "data": {"name": "fnR"},
              "encoding": {"y": {"field": "t", "type": "nominal", "sort": null, "scale": {"paddingInner": 0, "paddingOuter": 0}, "axis": null}},
              "layer": [
                {"mark": {"type": "text", "align": "left", "fontSize": 5, "dy": -2, "color": "#222222"}, "encoding": {"text": {"field": "n", "type": "nominal"}}},
                {"mark": {"type": "text", "align": "left", "dx": 14, "fontSize": 6.8, "color": "#222222"}, "encoding": {"text": {"field": "t", "type": "nominal"}}}
              ]
            }
          ]
        }
      ]
    }
  ]
}
]
}
